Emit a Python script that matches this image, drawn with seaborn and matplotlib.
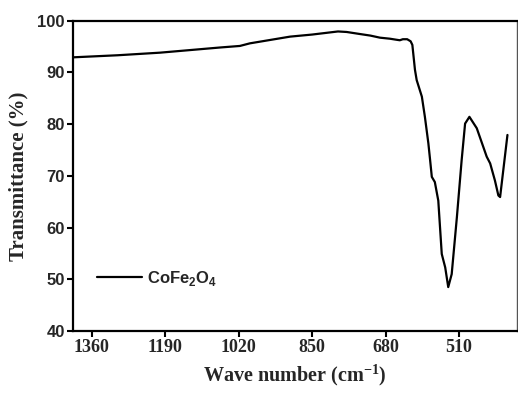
import matplotlib
matplotlib.use("Agg")
import matplotlib.pyplot as plt
import seaborn as sns
import pandas as pd

# Data (wavenumber in cm^-1, transmittance in %)
wavenumber = [1403, 1300, 1202, 1063, 1017, 994, 901, 850, 790, 770, 739, 715,
              693, 670, 655, 647, 640, 630, 622, 618, 612, 608, 596, 589, 581,
              577, 573, 566, 558, 550, 542, 535, 527, 515, 504, 496, 486, 469,
              446, 438, 427, 419, 415, 398]
transmittance = [92.9, 93.3, 93.8, 94.8, 95.1, 95.6, 96.9, 97.3, 97.9, 97.8, 97.4, 97.1,
                 96.7, 96.5, 96.3, 96.2, 96.4, 96.4, 96.0, 95.3, 90.5, 88.5, 85.3, 81.4, 76.3,
                 73.1, 69.8, 68.8, 65.2, 54.9, 52.3, 48.5, 51.0, 62.0, 73.0, 80.1, 81.4, 79.2,
                 73.7, 72.4, 69.1, 66.2, 65.9, 77.9]
series_label = r"CoFe$_2$O$_4$"
x_ticks = [1360, 1190, 1020, 850, 680, 510]
y_ticks = [40, 50, 60, 70, 80, 90, 100]

df = pd.DataFrame({"wn": wavenumber, "T": transmittance})

sns.set_style("ticks")
plt.rcParams["mathtext.fontset"] = "custom"
plt.rcParams["mathtext.rm"] = "Liberation Sans:bold"
plt.rcParams["mathtext.bf"] = "Liberation Serif:bold"

fig = plt.figure(figsize=(5.18, 3.96), dpi=100)
ax = fig.add_axes([0.141, 0.164, 0.857, 0.784])

sns.lineplot(data=df, x="wn", y="T", ax=ax, color="black", linewidth=1.6,
             label=series_label, sort=True)

ax.set_xlim(1403, 376)
ax.set_ylim(40, 100)
ax.set_xticks(x_ticks)
ax.set_yticks(y_ticks)
ax.set_xticklabels([str(t) for t in x_ticks], family="Liberation Serif",
                   fontweight="bold", fontsize=13)
ax.set_yticklabels([str(t) for t in y_ticks], family="Liberation Sans",
                   fontweight="bold", fontsize=12)
ax.tick_params(axis="both", direction="out", length=4, width=1.5, color="black", pad=2)

ax.set_xlabel(r"Wave number (cm$^{\mathbf{-1}}$)", family="Liberation Serif",
              fontweight="bold", fontsize=14.5, labelpad=4)
ax.set_ylabel("Transmittance (%)", family="Liberation Serif",
              fontweight="bold", fontsize=15, labelpad=6)

for side in ["left", "bottom", "top"]:
    ax.spines[side].set_color("black")
    ax.spines[side].set_linewidth(1.6)
ax.spines["right"].set_color("#555555")
ax.spines["right"].set_linewidth(1.0)

leg = ax.legend(loc="center left", bbox_to_anchor=(0.04, 0.17), frameon=False,
                handlelength=2.7, handletextpad=0.3, borderaxespad=0,
                prop={"family": "Liberation Sans", "weight": "bold", "size": 12})

fig.savefig("out.png", dpi=100)
